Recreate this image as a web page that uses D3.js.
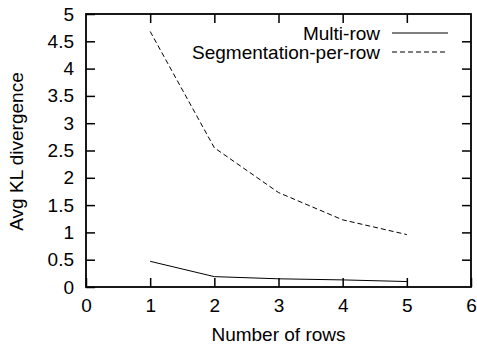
<!DOCTYPE html>
<html><head><meta charset="utf-8">
<script src="https://cdn.jsdelivr.net/npm/d3@7"></script>
<style>body{margin:0;background:#fff}svg{display:block}text{font-family:"Liberation Sans",Arial,sans-serif;fill:#000}</style>
</head><body>
<script>
const rows = [1, 2, 3, 4, 5];
const multiRow = [0.47, 0.19, 0.15, 0.13, 0.10];
const segPerRow = [4.68, 2.55, 1.73, 1.23, 0.96];
const xTicks = [0, 1, 2, 3, 4, 5, 6];
const yTicks = [0, 0.5, 1, 1.5, 2, 2.5, 3, 3.5, 4, 4.5, 5];
const seriesNames = ["Multi-row", "Segmentation-per-row"];

const W = 477, H = 347;
const L = 86, R = 471, T = 14, B = 287;
const FS = 19;
const svg = d3.select("body").append("svg").attr("width", W).attr("height", H);
const x = d3.scaleLinear().domain([0, 6]).range([L, R]);
const y = d3.scaleLinear().domain([0, 5]).range([B, T]);
const tl = 9;

const axes = [
  {a: d3.axisBottom(x).tickValues(xTicks).tickSize(-tl).tickPadding(12).tickFormat(d3.format("d")), t: `translate(0,${B})`},
  {a: d3.axisTop(x).tickValues(xTicks.slice(1,-1)).tickSize(-tl).tickFormat(""), t: `translate(0,${T})`},
  {a: d3.axisLeft(y).tickValues(yTicks).tickSize(-tl).tickPadding(12).tickFormat(d => d), t: `translate(${L},0)`},
  {a: d3.axisRight(y).tickValues(yTicks.slice(1,-1)).tickSize(-tl).tickFormat(""), t: `translate(${R},0)`}
];
axes.forEach(o => {
  const g = svg.append("g").attr("transform", o.t).call(o.a);
  g.select(".domain").remove();
  g.selectAll(".tick line").attr("stroke", "#000").attr("stroke-width", 1.5);
  g.selectAll(".tick text").attr("font-size", FS).attr("font-family", "Liberation Sans, Arial, sans-serif");
});
svg.append("rect").attr("x", L).attr("y", T).attr("width", R - L).attr("height", B - T)
  .attr("fill", "none").attr("stroke", "#000").attr("stroke-width", 1.8);

const line = d3.line().x((d, i) => x(rows[i])).y(d => y(d));
svg.append("path").datum(multiRow).attr("d", line).attr("fill", "none").attr("stroke", "#000").attr("stroke-width", 1);
svg.append("path").datum(segPerRow).attr("d", line).attr("fill", "none").attr("stroke", "#000").attr("stroke-width", 1).attr("stroke-dasharray", "5,3");

// legend
const leg = svg.append("g");
seriesNames.forEach((n, i) => {
  const ly = 33 + i * 19;
  leg.append("text").attr("x", 380).attr("y", ly).attr("dy", "0.35em").attr("text-anchor", "end").attr("font-size", FS).text(n);
  leg.append("line").attr("x1", 392).attr("x2", 448).attr("y1", ly).attr("y2", ly)
    .attr("stroke", "#000").attr("stroke-width", 1).attr("stroke-dasharray", i ? "5,3" : null);
});

svg.append("text").attr("x", (L + R) / 2).attr("y", 341).attr("text-anchor", "middle").attr("font-size", FS).text("Number of rows");
svg.append("text").attr("transform", `translate(23,${(T + B) / 2 + 1}) rotate(-90)`).attr("text-anchor", "middle").attr("font-size", FS).text("Avg KL divergence");
</script>
</body></html>
